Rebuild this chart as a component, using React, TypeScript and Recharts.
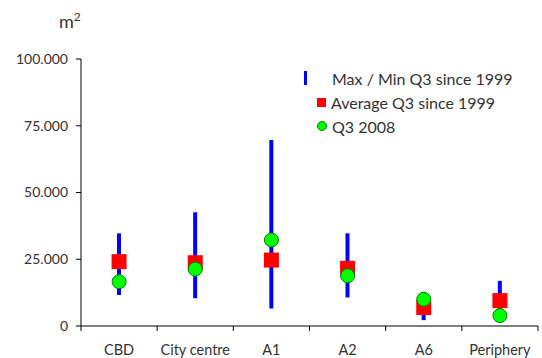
import {
  ComposedChart,
  Bar,
  Line,
  XAxis,
  YAxis,
  Legend,
} from "recharts";

const categories = ["CBD", "City centre", "A1", "A2", "A6", "Periphery"];
const maxValues = [34700, 42600, 69700, 34700, 12800, 16900];
const minValues = [11600, 10400, 6600, 10700, 2200, 3600];
const averageValues = [24100, 23700, 24700, 21600, 6900, 9500];
const q3Values = [16600, 21300, 32200, 18800, 10000, 3900];
const yTicks = [0, 25000, 50000, 75000, 100000];

const seriesNames = {
  range: "Max / Min Q3 since 1999",
  average: "Average Q3 since 1999",
  q3: "Q3 2008",
};

const data = categories.map((name, i) => ({
  name,
  range: [minValues[i], maxValues[i]],
  average: averageValues[i],
  q3: q3Values[i],
}));

const FONT = "Lato, 'Open Sans', sans-serif";
const TEXT = "#333333";

const fmt = (v: number) => String(v).replace(/\B(?=(\d{3})+(?!\d))/g, ".");

function SquareDot(props: any) {
  const { cx, cy } = props;
  if (cx == null || cy == null) return null;
  return <rect x={cx - 7.5} y={cy - 7.5} width={15} height={15} fill="#FF0000" />;
}

function CircleDot(props: any) {
  const { cx, cy } = props;
  if (cx == null || cy == null) return null;
  return <circle cx={cx} cy={cy} r={7} fill="#00FF00" stroke="#008000" strokeWidth={1} />;
}

function CategoryTick(props: any) {
  const { x, y, payload, index } = props;
  const half = payload && payload.offset ? payload.offset : 38;
  return (
    <g>
      <line x1={x - half} y1={y} x2={x - half} y2={y + 5} stroke="#000" />
      {index === categories.length - 1 && (
        <line x1={x + half} y1={y} x2={x + half} y2={y + 5} stroke="#000" />
      )}
      <text
        x={x}
        y={y + 29}
        textAnchor="middle"
        fontSize={14.5}
        fontFamily={FONT}
        fill={TEXT}
      >
        {payload.value}
      </text>
    </g>
  );
}

function LegendContent() {
  const row = { display: "flex", alignItems: "center", height: 24 } as const;
  return (
    <div style={{ fontFamily: FONT, fontSize: 16, color: TEXT }}>
      <div style={row}>
        <span style={{ display: "inline-block", width: 3, height: 14, background: "#0000FF", marginLeft: 3, marginRight: 25 }} />
        {seriesNames.range}
      </div>
      <div style={row}>
        <span style={{ display: "inline-block", width: 9, height: 9, background: "#FF0000", marginLeft: 16, marginRight: 5 }} />
        {seriesNames.average}
      </div>
      <div style={row}>
        <span style={{ display: "inline-block", width: 8, height: 8, borderRadius: "50%", background: "#00FF00", border: "1px solid #008000", marginLeft: 16, marginRight: 5 }} />
        {seriesNames.q3}
      </div>
    </div>
  );
}

export default function App() {
  return (
    <div style={{ position: "absolute", left: 0, top: 0, width: 542, height: 358, background: "#fff" }}>
      <div
        style={{
          position: "absolute",
          left: 59,
          top: 11,
          fontFamily: FONT,
          fontSize: 18,
          lineHeight: "20px",
          color: TEXT,
        }}
      >
        m<sup style={{ fontSize: 12, lineHeight: 0, verticalAlign: "7px" }}>2</sup>
      </div>
      <ComposedChart
        width={542}
        height={358}
        data={data}
        margin={{ top: 59, right: 4, bottom: 0, left: 0 }}
      >
        <XAxis
          dataKey="name"
          height={32}
          axisLine={{ stroke: "#000" }}
          tickLine={false}
          tickSize={0}
          tickMargin={0}
          tick={<CategoryTick />}
          interval={0}
        />
        <YAxis
          width={81}
          domain={[0, 100000]}
          ticks={yTicks}
          tickFormatter={fmt}
          axisLine={{ stroke: "#000" }}
          tickLine={{ stroke: "#000" }}
          tickSize={5}
          tickMargin={8}
          tick={{ fontSize: 14, fontFamily: FONT, fill: TEXT }}
        />
        <Legend
          layout="vertical"
          align="center"
          verticalAlign="middle"
          wrapperStyle={{ left: 301, top: 66, width: 240 }}
          content={<LegendContent />}
        />
        <Bar dataKey="range" barSize={4} fill="#0000FF" isAnimationActive={false} />
        <Line
          dataKey="average"
          stroke="none"
          dot={<SquareDot />}
          activeDot={false}
          isAnimationActive={false}
        />
        <Line
          dataKey="q3"
          stroke="none"
          dot={<CircleDot />}
          activeDot={false}
          isAnimationActive={false}
        />
      </ComposedChart>
    </div>
  );
}
